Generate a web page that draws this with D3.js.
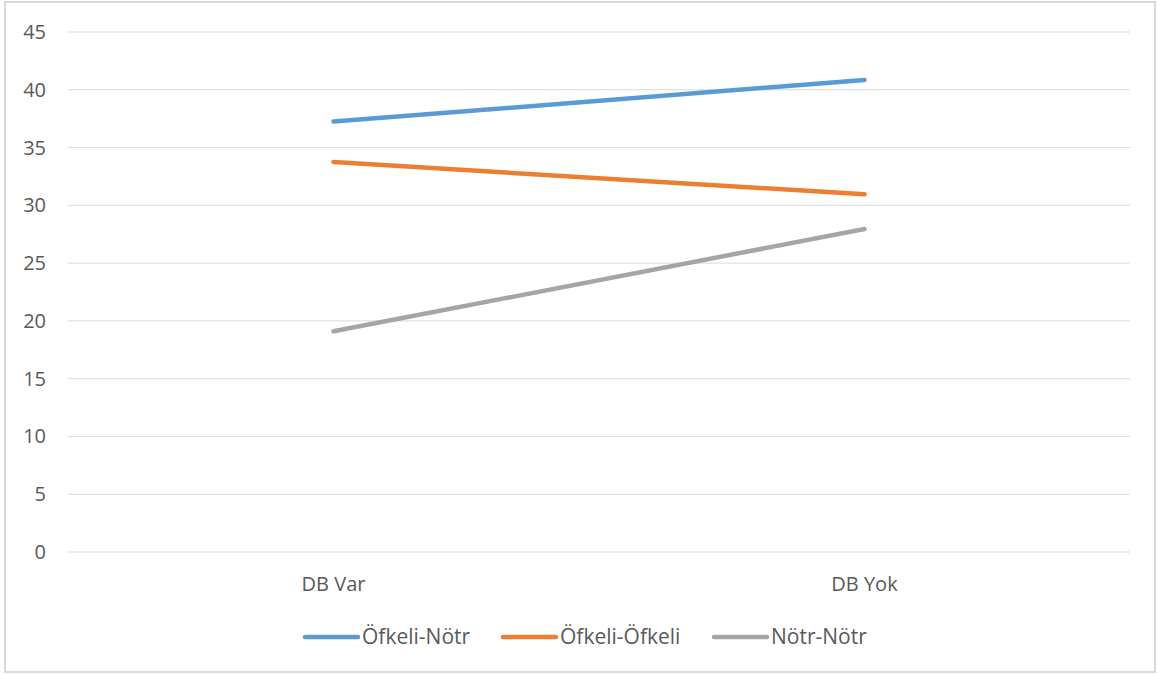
<!DOCTYPE html>
<meta charset="utf-8">
<script src="https://cdn.jsdelivr.net/npm/d3@7"></script>
<style>
  body { margin: 0; background: #fff; }
  text { font-family: "Open Sans", "Noto Sans", sans-serif; fill: #595959; }
</style>
<div id="vis"></div>
<script>
// categories and series
const categories = ["DB Var", "DB Yok"]
const ofkeliNotr = [37.25, 40.85]
const ofkeliOfkeli = [33.75, 30.95]
const notrNotr = [19.1, 27.95]
const seriesNames = ["Öfkeli-Nötr", "Öfkeli-Öfkeli", "Nötr-Nötr"]
const seriesColors = ["#5b9bd5", "#ed7d31", "#a5a5a5"]
const yTicks = [0, 5, 10, 15, 20, 25, 30, 35, 40, 45]

const series = [ofkeliNotr, ofkeliOfkeli, notrNotr].map((vals, i) => ({
  name: seriesNames[i],
  color: seriesColors[i],
  values: vals.map((v, j) => ({ cat: categories[j], v: v }))
}))

const W = 1158, H = 675
const margin = { top: 32, right: 28, bottom: 123, left: 68 }
const width = W - margin.left - margin.right
const height = H - margin.top - margin.bottom

const svg = d3.select("#vis").append("svg")
  .attr("width", W).attr("height", H)

svg.append("rect")
  .attr("x", 5).attr("y", 2)
  .attr("width", W - 8).attr("height", H - 5)
  .attr("fill", "none").attr("stroke", "#d9d9d9").attr("stroke-width", 2)

const x = d3.scaleBand().domain(categories).range([0, width])
const y = d3.scaleLinear().domain([0, 45]).range([height, 0])

const g = svg.append("g").attr("transform", `translate(${margin.left},${margin.top})`)

// gridlines
g.selectAll("line.grid")
  .data(yTicks)
  .enter().append("line")
  .attr("class", "grid")
  .attr("x1", 0).attr("x2", width)
  .attr("y1", d => y(d)).attr("y2", d => y(d))
  .attr("stroke", "#d9d9d9").attr("stroke-width", 1)

// y labels
g.selectAll("text.ylab")
  .data(yTicks)
  .enter().append("text")
  .attr("class", "ylab")
  .attr("x", -22)
  .attr("y", d => y(d))
  .attr("dy", "0.35em")
  .attr("text-anchor", "end")
  .style("font-size", "20px")
  .text(d => d)

// x labels
g.selectAll("text.xlab")
  .data(categories)
  .enter().append("text")
  .attr("class", "xlab")
  .attr("x", d => x(d) + x.bandwidth() / 2)
  .attr("y", height + 32)
  .attr("dy", "0.35em")
  .attr("text-anchor", "middle")
  .style("font-size", "20px")
  .text(d => d)

const line = d3.line()
  .x(d => x(d.cat) + x.bandwidth() / 2)
  .y(d => y(d.v))

g.selectAll("path.series")
  .data(series)
  .enter().append("path")
  .attr("class", "series")
  .attr("d", d => line(d.values))
  .attr("fill", "none")
  .attr("stroke", d => d.color)
  .attr("stroke-width", 4.5)
  .attr("stroke-linecap", "round")

// legend
const legendX = [305, 503, 714]
const legend = svg.selectAll("g.leg")
  .data(series)
  .enter().append("g")
  .attr("class", "leg")
  .attr("transform", (d, i) => `translate(${legendX[i]},637)`)

legend.append("line")
  .attr("x1", 0).attr("x2", 53)
  .attr("stroke", d => d.color)
  .attr("stroke-width", 4.5)
  .attr("stroke-linecap", "round")

legend.append("text")
  .attr("x", 57)
  .attr("dy", "0.35em")
  .style("font-size", "21px")
  .text(d => d.name)
</script>
